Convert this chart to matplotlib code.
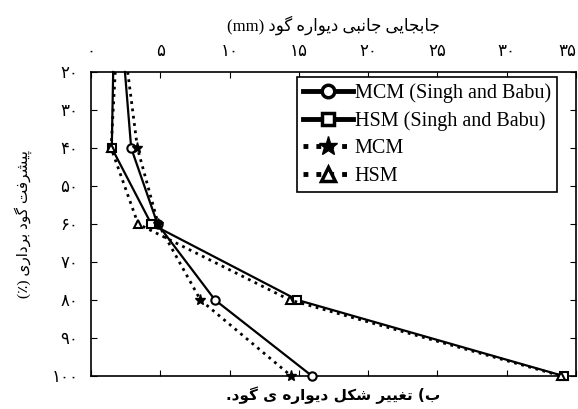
import matplotlib
matplotlib.use("Agg")
import matplotlib.pyplot as plt
from matplotlib.lines import Line2D

# excavation depth (%) and lateral wall displacement (mm)
depth = [20, 40, 60, 80, 100]
mcm_singh = [2.45, 2.9, 4.8, 8.95, 15.95]
hsm_singh = [1.6, 1.5, 4.35, 14.9, 34.1]
mcm = [2.65, 3.35, 4.85, 7.9, 14.45]
hsm = [1.75, 1.45, 3.4, 14.35, 33.95]

x_ticks = [0, 5, 10, 15, 20, 25, 30, 35]
y_ticks = [20, 30, 40, 50, 60, 70, 80, 90, 100]
labels = ["MCM (Singh and Babu)", "HSM (Singh and Babu)", "MCM", "HSM"]

title_txt = "جابجایی جانبی دیواره گود (mm)"
ylabel_txt = "پیشرفت گود برداری (٪)"
caption_txt = "ب) تغییر شکل دیواره ی گود."

# presentation forms: isolated, final, initial, medial
FORMS = {
    "ا": ("\uFE8D", "\uFE8E", None, None),
    "ب": ("\uFE8F", "\uFE90", "\uFE91", "\uFE92"),
    "پ": ("\uFB56", "\uFB57", "\uFB58", "\uFB59"),
    "ت": ("\uFE95", "\uFE96", "\uFE97", "\uFE98"),
    "ج": ("\uFE9D", "\uFE9E", "\uFE9F", "\uFEA0"),
    "د": ("\uFEA9", "\uFEAA", None, None),
    "ر": ("\uFEAD", "\uFEAE", None, None),
    "ش": ("\uFEB5", "\uFEB6", "\uFEB7", "\uFEB8"),
    "غ": ("\uFECD", "\uFECE", "\uFECF", "\uFED0"),
    "ف": ("\uFED1", "\uFED2", "\uFED3", "\uFED4"),
    "ک": ("\uFB8E", "\uFB8F", "\uFB90", "\uFB91"),
    "گ": ("\uFB92", "\uFB93", "\uFB94", "\uFB95"),
    "ل": ("\uFEDD", "\uFEDE", "\uFEDF", "\uFEE0"),
    "ن": ("\uFEE5", "\uFEE6", "\uFEE7", "\uFEE8"),
    "ه": ("\uFEE9", "\uFEEA", "\uFEEB", "\uFEEC"),
    "و": ("\uFEED", "\uFEEE", None, None),
    "ی": ("\uFBFC", "\uFBFD", "\uFBFE", "\uFBFF"),
}


def rtl(s):
    out = []
    for i, c in enumerate(s):
        if c not in FORMS:
            out.append(c)
            continue
        prev = s[i - 1] if i > 0 else None
        nxt = s[i + 1] if i + 1 < len(s) else None
        jp = prev in FORMS and FORMS[prev][2] is not None
        jn = FORMS[c][2] is not None and nxt in FORMS
        iso, fin, ini, med = FORMS[c]
        if jp and jn:
            out.append(med)
        elif jp:
            out.append(fin)
        elif jn:
            out.append(ini)
        else:
            out.append(iso)
    vis = "".join(out)[::-1]
    return vis.translate({ord("("): ")", ord(")"): "("})


def fa_num(n):
    return str(n).translate(str.maketrans("0123456789", "۰۱۲۳۴۵۶۷۸۹"))


fam = ["Liberation Serif", "DejaVu Sans"]

fig = plt.figure(figsize=(5.78, 4.09), dpi=100)
ax = fig.add_axes([91 / 578, 1 - 376 / 409, 485 / 578, 304 / 409])

ax.plot(mcm_singh, depth, "k-", lw=1.6, marker="o", ms=6, mfc="white", mew=1.5,
        markevery=[1, 2, 3, 4], clip_on=False, zorder=3)
ax.plot(hsm_singh, depth, "k-", lw=1.6, marker="s", ms=5.5, mfc="white", mew=1.5,
        markevery=[1, 2, 3, 4], clip_on=False, zorder=3)
ax.plot(mcm, depth, "k:", lw=2, marker="*", ms=8, mfc="black",
        markevery=[1, 2, 3, 4], clip_on=False, zorder=3)
ax.plot(hsm, depth, "k:", lw=2, marker="^", ms=6, mfc="white", mew=1.5,
        markevery=[1, 2, 3, 4], clip_on=False, zorder=3)

ax.set_xlim(0, 35)
ax.set_ylim(100, 20)
ax.set_xticks(x_ticks)
ax.set_xticklabels([fa_num(v) for v in x_ticks], family=fam, fontsize=12)
ax.set_yticks(y_ticks)
ax.set_yticklabels([fa_num(v) for v in y_ticks], family=fam, fontsize=12)
ax.tick_params(direction="in", length=4, top=True, bottom=True, left=True, right=True,
               labeltop=True, labelbottom=False, pad=9)
# keep the last top label inside the figure
ax.get_xticklabels()[-1].set_ha("right")
ax.xaxis.set_label_position("top")
ax.set_xlabel(rtl(title_txt), family=fam, fontsize=12, labelpad=9)
ax.set_ylabel(rtl(ylabel_txt), family=fam, fontsize=11, labelpad=14)
for s in ax.spines.values():
    s.set_linewidth(1.2)

handles = [
    Line2D([], [], color="k", lw=3.5, ls="-", marker="o", ms=9, mfc="white", mew=2.5),
    Line2D([], [], color="k", lw=3.5, ls="-", marker="s", ms=8, mfc="white", mew=2.5),
    Line2D([], [], color="k", lw=3.5, ls=":", marker="*", ms=14, mfc="black"),
    Line2D([], [], color="k", lw=3.5, ls=":", marker="^", ms=10, mfc="white", mew=2.5),
]
leg = ax.legend(handles, labels, loc="upper right", bbox_to_anchor=(0.961, 0.984),
                prop={"family": "Liberation Serif", "size": 14.5}, fancybox=False,
                framealpha=1, edgecolor="black", handlelength=2.5, handletextpad=0.1,
                borderpad=0.3, labelspacing=0.42, borderaxespad=0)
leg.get_frame().set_linewidth(1.2)

fig.text((91 + 576) / 2 / 578, 1 - 395 / 409, rtl(caption_txt), family="DejaVu Sans",
         fontsize=11, fontweight="bold", ha="center", va="center")

fig.savefig("out.png", dpi=100)
